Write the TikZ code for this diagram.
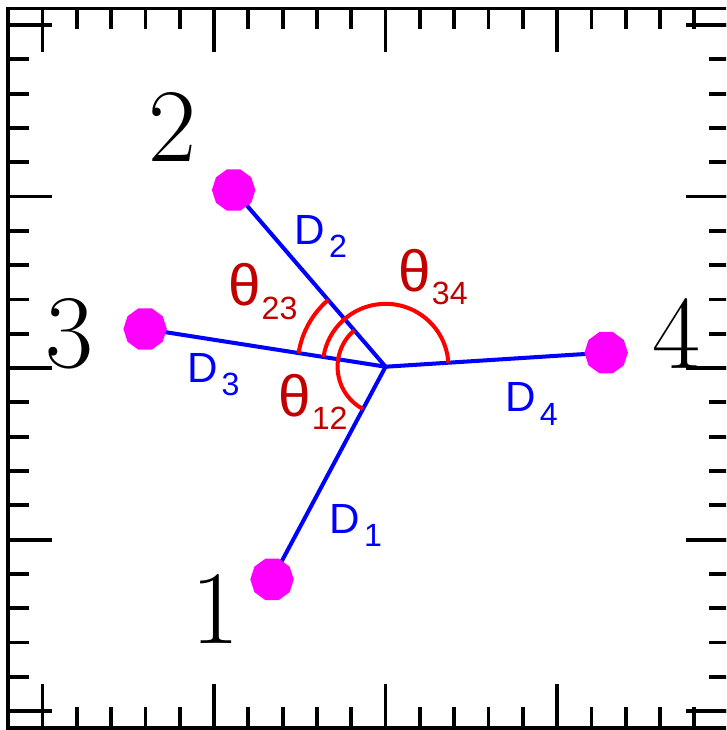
\documentclass[tikz,border=0pt]{standalone}
\usepackage{fontspec}
\newfontfamily\lblfont{Liberation Sans}
\usetikzlibrary{angles,shapes.geometric}
\definecolor{dotmag}{RGB}{255,0,255}
\definecolor{threds}{RGB}{195,0,0}
\newcommand{\Dlab}[1]{{\fontsize{21}{21}\lblfont D}\kern2pt\raisebox{-6.5pt}{\fontsize{16}{16}\lblfont #1}}
\newcommand{\Tlab}[1]{{\fontsize{29}{29}\lblfont θ}\kern0.5pt\raisebox{-6.5pt}{\fontsize{16}{16}\lblfont #1}}

\begin{document}
\begin{tikzpicture}[
  x=0.6cm, y=0.6cm,
  line width=1.9pt,
  dline/.style={blue,line width=2pt},
  aline/.style={draw=red,line width=2pt},
  station/.style={regular polygon,regular polygon sides=10,fill=dotmag,
                  inner sep=0pt,minimum size=0.76cm},
  dlabel/.style={anchor=base west,text=blue,inner sep=0pt},
  tlabel/.style={anchor=base west,text=threds,inner sep=0pt},
  num/.style={anchor=base,inner sep=0pt,font=\fontsize{52}{52}\selectfont}]

\useasboundingbox (-11.24,-10.55) rectangle (9.93,10.73);
\clip (-11.24,-10.55) rectangle (9.93,10.73);

% --- Frame and ticks ---
\draw (-11,-10.48) rectangle (10.05,10.48);
\foreach \i in {-10,...,9}{
  \draw (\i,-10.48) -- ++(0,0.61);
  \draw (\i,10.48) -- ++(0,-0.61);
}
\foreach \i in {-10,-5,0,5}{
  \draw (\i,-10.48) -- ++(0,1.28);
  \draw (\i,10.48) -- ++(0,-1.28);
}
\foreach \j in {-10,...,10}{
  \draw (-11,\j) -- ++(0.61,0);
  \draw (10.05,\j) -- ++(-0.61,0);
}
\foreach \j in {-10,-5,0,5,10}{
  \draw (-11,\j) -- ++(1.28,0);
  \draw (10.05,\j) -- ++(-1.28,0);
}

% --- Stations and baselines ---
\coordinate (c) at (0,0.04);
\foreach \n/\X/\Y in {1/-3.31/-6.16, 2/-4.43/5.19, 3/-7.01/1.14, 4/6.43/0.45}
  \coordinate (q\n) at (\X,\Y);
\foreach \n in {1,...,4}
  \draw[dline] (c) -- (q\n);
\foreach \n in {1,...,4}
  \node[station] (p\n) at (q\n) {};

% --- Angles ---
\pic[aline,angle radius=1.54cm] {angle = q2--c--q3};
\pic[aline,angle radius=1.10cm] {angle = q4--c--q3};
\pic[aline,angle radius=0.84cm] {angle = q2--c--q1};

% --- Labels ---
\node[dlabel] (d1) at (-1.69,-4.81) {\Dlab{1}};
\node[dlabel] (d2) at (-2.71,3.59) {\Dlab{2}};
\node[dlabel] (d3) at (-5.84,-0.41) {\Dlab{3}};
\node[dlabel] (d4) at (3.44,-1.28) {\Dlab{4}};
\node[tlabel] (t23) at (-4.64,1.81) {\Tlab{23}};
\node[tlabel] (t34) at (0.32,2.22) {\Tlab{34}};
\node[tlabel] (t12) at (-3.18,-1.40) {\Tlab{12}};

\node[num] (n1) at (-4.96,-8.02) {1};
\node[num] (n2) at (-6.22,6.01) {2};
\node[num] (n3) at (-9.22,0.03) {3};
\node[num] (n4) at (8.49,0) {4};

\end{tikzpicture}
\end{document}
